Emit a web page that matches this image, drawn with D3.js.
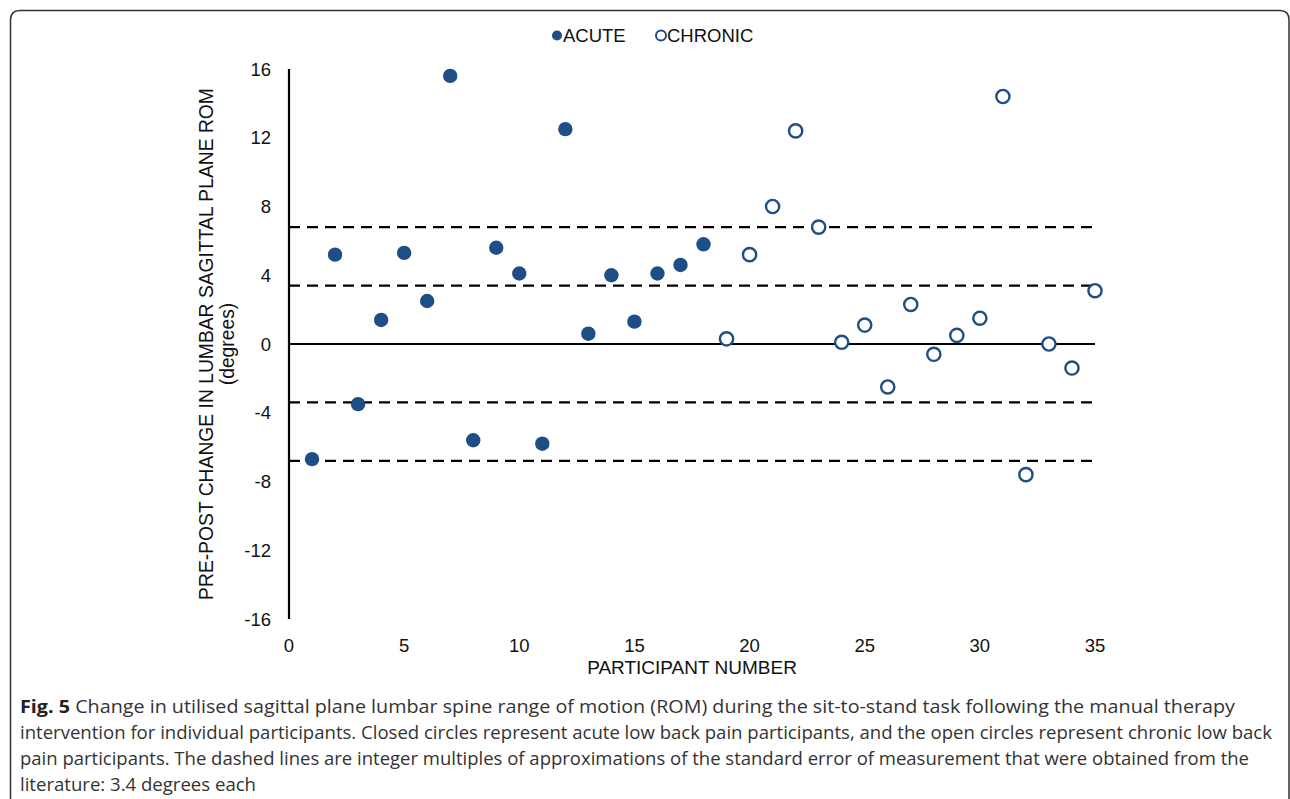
<!DOCTYPE html>
<html>
<head>
<meta charset="utf-8">
<script src="https://cdn.jsdelivr.net/npm/d3@7"></script>
<style>
  html, body { margin: 0; padding: 0; background: #fff; }
  svg { display: block; }
</style>
</head>
<body>
<svg id="chart" width="1290" height="799"></svg>
<script>
// ---- data ----
const acuteParticipants = [1,2,3,4,5,6,7,8,9,10,11,12,13,14,15,16,17,18];
const acuteValues = [-6.7, 5.2, -3.5, 1.4, 5.3, 2.5, 15.6, -5.6, 5.6, 4.1, -5.8, 12.5, 0.6, 4.0, 1.3, 4.1, 4.6, 5.8];
const chronicParticipants = [19,20,21,22,23,24,25,26,27,28,29,30,31,32,33,34,35];
const chronicValues = [0.3, 5.2, 8.0, 12.4, 6.8, 0.1, 1.1, -2.5, 2.3, -0.6, 0.5, 1.5, 14.4, -7.6, 0.0, -1.4, 3.1];
const semLines = [6.8, 3.4, -3.4, -6.8];
const xTicks = [0, 5, 10, 15, 20, 25, 30, 35];
const yTicks = [16, 12, 8, 4, 0, -4, -8, -12, -16];
const legendLabels = ["ACUTE", "CHRONIC"];
const captionLines = [
  "Change in utilised sagittal plane lumbar spine range of motion (ROM) during the sit-to-stand task following the manual therapy",
  "intervention for individual participants. Closed circles represent acute low back pain participants, and the open circles represent chronic low back",
  "pain participants. The dashed lines are integer multiples of approximations of the standard error of measurement that were obtained from the",
  "literature: 3.4 degrees each"
];

const blue = "#1f4e86";
const svg = d3.select("#chart");

// frame
svg.append("path")
  .attr("d", "M 10.5 805 L 10.5 20 Q 10.5 10.5 20 10.5 L 1280 10.5 Q 1289 10.5 1289 20 L 1289 805")
  .attr("fill", "none").attr("stroke", "#333").attr("stroke-width", 1.5);

const x = d3.scaleLinear().domain([0, 35]).range([289, 1095]);
const y = d3.scaleLinear().domain([-16, 16]).range([619, 69]);

const font = "'Liberation Sans', Arial, sans-serif";

// y axis line
svg.append("line")
  .attr("x1", x(0)).attr("x2", x(0))
  .attr("y1", y(16)).attr("y2", y(-16))
  .attr("stroke", "#000").attr("stroke-width", 2.2);

// y tick labels
svg.append("g").selectAll("text").data(yTicks).join("text")
  .attr("x", 271).attr("y", d => y(d)).attr("dy", "0.36em")
  .attr("text-anchor", "end")
  .attr("font-family", font).attr("font-size", 18.5).attr("fill", "#111")
  .text(d => d);

// x tick labels
svg.append("g").selectAll("text").data(xTicks).join("text")
  .attr("x", d => x(d)).attr("y", 652)
  .attr("text-anchor", "middle")
  .attr("font-family", font).attr("font-size", 18.5).attr("fill", "#111")
  .text(d => d);

// zero line
svg.append("line")
  .attr("x1", x(0)).attr("x2", x(35))
  .attr("y1", y(0)).attr("y2", y(0))
  .attr("stroke", "#000").attr("stroke-width", 2.2);

// dashed SEM lines
svg.append("g").selectAll("line").data(semLines).join("line")
  .attr("x1", x(0)).attr("x2", x(34.9))
  .attr("y1", d => y(d)).attr("y2", d => y(d))
  .attr("stroke", "#000").attr("stroke-width", 2.2)
  .attr("stroke-dasharray", "11,7");

// axis titles
svg.append("text")
  .attr("transform", `translate(213, ${y(0)}) rotate(-90)`)
  .attr("text-anchor", "middle")
  .attr("font-family", font).attr("font-size", 19.3).attr("fill", "#111")
  .text("PRE-POST CHANGE IN LUMBAR SAGITTAL PLANE ROM");
svg.append("text")
  .attr("transform", `translate(234, ${y(0)}) rotate(-90)`)
  .attr("text-anchor", "middle")
  .attr("font-family", font).attr("font-size", 19.3).attr("fill", "#111")
  .text("(degrees)");
svg.append("text")
  .attr("x", 692).attr("y", 674)
  .attr("text-anchor", "middle")
  .attr("font-family", font).attr("font-size", 19).attr("fill", "#111")
  .text("PARTICIPANT NUMBER");

// points
svg.append("g").selectAll("circle").data(acuteParticipants.map((p, i) => [p, acuteValues[i]])).join("circle")
  .attr("cx", d => x(d[0])).attr("cy", d => y(d[1])).attr("r", 7.2)
  .attr("fill", blue);
svg.append("g").selectAll("circle").data(chronicParticipants.map((p, i) => [p, chronicValues[i]])).join("circle")
  .attr("cx", d => x(d[0])).attr("cy", d => y(d[1])).attr("r", 6.6)
  .attr("fill", "#fff").attr("stroke", blue).attr("stroke-width", 2.4);

// legend
const lg = svg.append("g").attr("font-family", font).attr("font-size", 18.5).attr("fill", "#111");
lg.append("circle").attr("cx", 557).attr("cy", 35.5).attr("r", 5).attr("fill", blue);
lg.append("text").attr("x", 563).attr("y", 42).text(legendLabels[0]);
lg.append("circle").attr("cx", 661).attr("cy", 35.5).attr("r", 5).attr("fill", "none").attr("stroke", blue).attr("stroke-width", 2);
lg.append("text").attr("x", 667).attr("y", 42).text(legendLabels[1]);

// caption
const cap = svg.append("g").attr("font-family", "'Open Sans', 'Noto Sans', sans-serif").attr("font-size", 18.5).attr("fill", "#333");
const capY = [713, 739, 765, 791];
const capW = [1215, 1252, 1229, 236];
captionLines.forEach((line, i) => {
  const t = cap.append("text").attr("x", 20).attr("y", capY[i])
    .attr("textLength", capW[i]).attr("lengthAdjust", "spacingAndGlyphs");
  if (i === 0) {
    t.append("tspan").attr("font-weight", "bold").attr("fill", "#222").text("Fig. 5");
    t.append("tspan").text(" " + line);
  } else {
    t.text(line);
  }
});
</script>
</body>
</html>
